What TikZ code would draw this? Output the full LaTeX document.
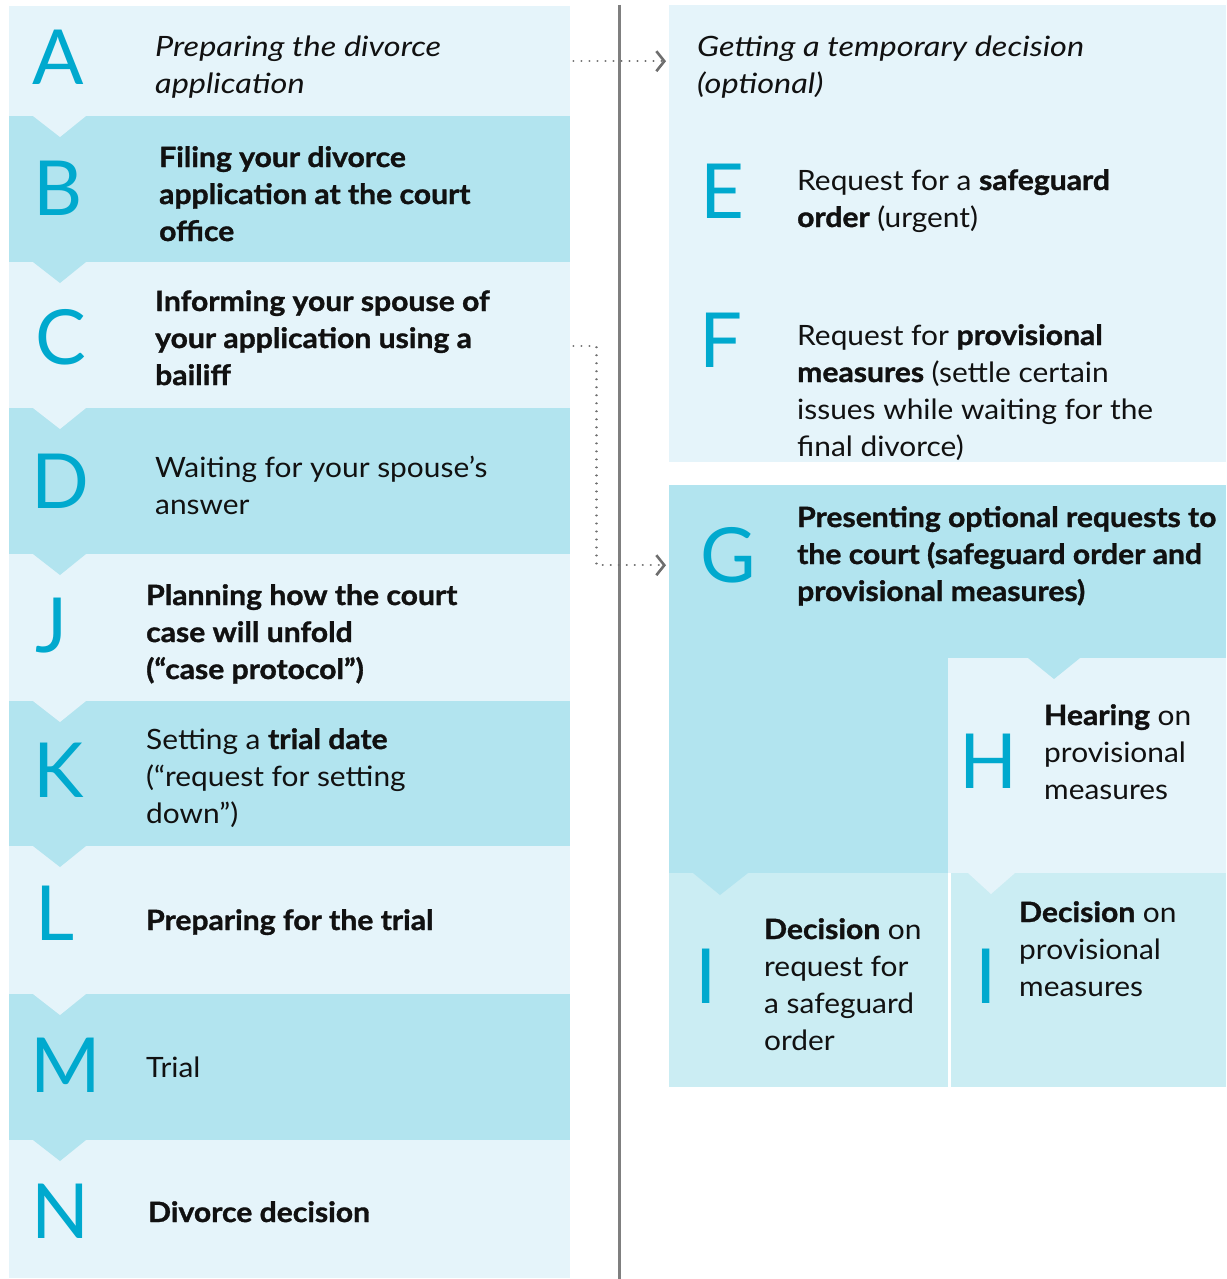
\documentclass[tikz,border=0pt]{standalone}
\usepackage{fontspec}
\setmainfont{Lato}[UprightFeatures={FakeStretch=1.067},BoldFeatures={FakeStretch=1.075,FakeBold=1.2},ItalicFeatures={FakeStretch=1.16}]
\usetikzlibrary{arrows.meta}
\definecolor{lightc}{HTML}{E5F4FA}
\definecolor{darkc}{HTML}{B2E4EF}
\definecolor{midc}{HTML}{CBEDF3}
\definecolor{letc}{HTML}{00A9CE}
\definecolor{txtc}{HTML}{111111}
\definecolor{linec}{HTML}{7F7F7F}
\definecolor{dotc}{HTML}{6E6E6E}
\newcommand\ls[1]{\begin{tabular}[t]{@{}l@{}}#1\end{tabular}}
\newfontfamily\letterfont{Lato}
\begin{document}
\begin{tikzpicture}[x=1pt,y=-1pt,
  band/.style={rectangle, draw=none, inner sep=0pt, anchor=north west, minimum width=561pt},
  box/.style={rectangle, draw=none, inner sep=0pt, anchor=north west},
  txt/.style={anchor=base west, inner sep=0pt, font=\fontsize{28}{37}\selectfont, text=txtc},
  big/.style={anchor=base, inner sep=0pt, font=\letterfont\fontsize{76}{76}\selectfont, text=letc},
  dotarrow/.style={draw=dotc, line width=2.2pt, line cap=round, dash pattern=on 0.01pt off 8pt,
    -{Straight Barb[length=8pt,width=20pt,line width=2.6pt]}},
]
\useasboundingbox[fill=white] (0,0) rectangle (1226,1279);
% ---------- left column bands ----------
\node[band, fill=lightc, minimum height=110pt] (A) at (9,6) {};
\node[band, fill=darkc,  minimum height=146pt] (B) at (9,116) {};
\node[band, fill=lightc, minimum height=146pt] (C) at (9,262) {};
\node[band, fill=darkc,  minimum height=146pt] (D) at (9,408) {};
\node[band, fill=lightc, minimum height=147pt] (J) at (9,554) {};
\node[band, fill=darkc,  minimum height=145pt] (K) at (9,701) {};
\node[band, fill=lightc, minimum height=148pt] (L) at (9,846) {};
\node[band, fill=darkc,  minimum height=146pt] (M) at (9,994) {};
\node[band, fill=lightc, minimum height=138pt] (N) at (9,1140) {};
% notches
\foreach \yy/\cc in {116/lightc,262/darkc,408/lightc,554/darkc,701/lightc,846/darkc,994/lightc,1140/darkc}
  \fill[\cc] (33,\yy) -- (86,\yy) -- (60,\yy+21) -- cycle;
% ---------- vertical divider ----------
\draw[linec, line width=3pt] (619,5) -- (619,1279);
% ---------- right column ----------
\node[box, fill=lightc, minimum width=557pt, minimum height=457pt] (T) at (669,5) {};
\node[box, fill=darkc, minimum width=557pt, minimum height=388pt] (Gb) at (669,485) {};
\node[box, fill=none, minimum width=557pt, minimum height=173pt] (G) at (669,485) {};
\node[box, fill=lightc, minimum width=278pt, minimum height=215pt] (H) at (948,658) {};
\fill[darkc] (1028,658) -- (1080,658) -- (1054,679) -- cycle;
\node[box, fill=midc, minimum width=279pt, minimum height=214pt] (I1) at (669,873) {};
\node[box, fill=midc, minimum width=275pt, minimum height=214pt] (I2) at (951,873) {};
\fill[darkc] (693,873) -- (748,873) -- (720,895) -- cycle;
\fill[lightc] (968,873) -- (1015,873) -- (991,894) -- cycle;
% ---------- big letters ----------
\node[big] (lA) at (58,85) {A};
\node[big] (lB) at (58,215) {B};
\node[big] (lC) at (61,364) {C};
\node[big] (lD) at (60,508) {D};
\node[big] (lJ) at (52,652) {J};
\node[big] (lK) at (59,797) {K};
\node[big] (lL) at (55,940) {L};
\node[big] (lM) at (66,1092) {M};
\node[big] (lN) at (61,1238) {N};
\node[big] (lE) at (722,218) {E};
\node[big] (lF) at (721,367) {F};
\node[big] (lG) at (728,582) {G};
\node[big] (lH) at (988,788) {H};
\node[big] (lI1) at (706,1003) {I};
\node[big] (lI2) at (986,1003) {I};
% ---------- texts ----------
\node[txt] (tA) at (155,57) {\ls{\itshape Preparing the divorce\\ \itshape application}};
\node[txt] (tB) at (159,167) {\ls{\bfseries Filing your divorce\\ \bfseries application at the court\\ \bfseries office}};
\node[txt] (tC) at (155,311) {\ls{\bfseries Informing your spouse of\\ \bfseries your application using a\\ \bfseries bailiff}};
\node[txt] (tD) at (155,477) {\ls{Waiting for your spouse’s\\ answer}};
\node[txt] (tJ) at (146,605) {\ls{\bfseries Planning how the court\\ \bfseries case will unfold\\ \bfseries (“case protocol”)}};
\node[txt] (tK) at (146,749) {\ls{Setting a \textbf{trial date}\\ (“request for setting\\ down”)}};
\node[txt] (tL) at (146,930) {\bfseries Preparing for the trial};
\node[txt] (tM) at (146,1077) {Trial};
\node[txt] (tN) at (148,1222) {\bfseries Divorce decision};
\node[txt] (tT) at (697,57) {\ls{\itshape Getting a temporary decision\\ \itshape (optional)}};
\node[txt] (tE) at (797,190) {\ls{Request for a \textbf{safeguard}\\ \textbf{order} (urgent)}};
\node[txt] (tF) at (797,345) {\ls{Request for \textbf{provisional}\\ \textbf{measures} (settle certain\\ issues while waiting for the\\ final divorce)}};
\node[txt] (tG) at (797,527) {\ls{\bfseries Presenting optional requests to\\ \bfseries the court (safeguard order and\\ \bfseries provisional measures)}};
\node[txt] (tH) at (1044,725) {\ls{\textbf{Hearing} on\\ provisional\\ measures}};
\node[txt] (tI1) at (764,939) {\ls{\textbf{Decision} on\\ request for\\ a safeguard\\ order}};
\node[txt] (tI2) at (1019,922) {\ls{\textbf{Decision} on\\ provisional\\ measures}};
% ---------- dotted connectors ----------
\draw[dotarrow, shorten >=3pt] ([xshift=3pt]A.east) -- (T.west |- A.east);
\draw[dotarrow, shorten >=3pt] ([xshift=3pt,yshift=-11pt]C.east) -- ++(23,0) |- ([yshift=6.5pt]G.west);
\end{tikzpicture}
\end{document}
